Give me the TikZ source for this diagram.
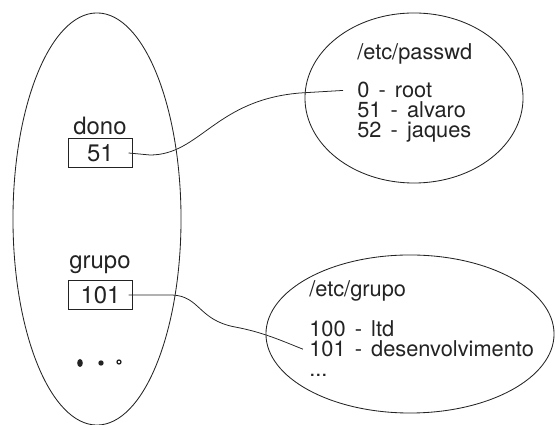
\documentclass[tikz,border=0pt]{standalone}
\usepackage{fontspec}
\setmainfont{TeX Gyre Heros}
\usetikzlibrary{shapes.geometric}
\definecolor{InkClr}{RGB}{35,35,35}
\newcommand{\tracinho}{\hspace{0.42em}-\hspace{0.42em}}

\begin{document}
\begin{tikzpicture}[x=0.025cm,y=-0.025cm,
  every node/.style={font=\fontsize{15.5}{18}\selectfont,text=InkClr},
  conj/.style={draw=InkClr,ellipse,line width=0.6pt,inner sep=0pt},
  rotulo/.style={font=\fontsize{17}{19}\selectfont},
  campo/.style={rotulo,draw=InkClr,line width=0.6pt,minimum width=1.62cm,minimum height=0.72cm,inner sep=0pt},
  linha/.style={anchor=base west,inner sep=0pt},
  liga/.style={draw=InkClr,line width=0.55pt}]
\useasboundingbox (0,0) rectangle (555,425);

% the process and the two tables
\node[conj,minimum width=4.2cm,minimum height=10.3cm] (proc) at (97,219) {};
\node[conj,minimum width=5.45cm,minimum height=4.25cm] (passwd) at (414,98) {};
\node[conj,minimum width=7.2cm,minimum height=3.95cm] (grupo) at (410,334) {};

% fields of the process
\node[rotulo] (donolbl) at (100,126) {dono};
\node[campo] (dono) at (100.5,153) {51};
\node[rotulo] (grupolbl) at (100,265) {grupo};
\node[campo] (gid) at (100.5,295) {101};

\fill[InkClr] (80,363) ellipse (2.8 and 4);
\fill[InkClr] (101,363) circle (2.7);
\draw[InkClr,line width=0.9pt] (119,362) circle (2);

% /etc/passwd
\node[linha] (pwtit) at (357,60) {/etc/passwd};
\node[linha] (root) at (357,98) {0\tracinho root};
\node[linha] (alvaro) at (357,118) {51\tracinho alvaro};
\node[linha] (jaques) at (357,138) {52\tracinho jaques};

% /etc/grupo
\node[linha] (grtit) at (309,297) {/etc/grupo};
\node[linha] (ltd) at (309,337) {100\tracinho ltd};
\node[linha] (desenv) at (309,357) {101\tracinho desenvolvimento};
\node[linha] (mais) at (309,377) {...};

% links from the fields to the tables
\coordinate (fimdono) at ([xshift=-0.35cm]root.west);
\coordinate (fimgid) at ([xshift=-0.15cm]desenv.west);
\draw[liga] ([xshift=-0.12cm]dono.east) -- (150,155) .. controls (200,155) and (215,100) .. (300,93) -- (fimdono);
\draw[liga] ([xshift=-0.12cm]gid.east) -- (172,295) .. controls (200,296) and (198,320) .. (235,327) .. controls (262,332) and (280,340) .. (fimgid);

\end{tikzpicture}
\end{document}
